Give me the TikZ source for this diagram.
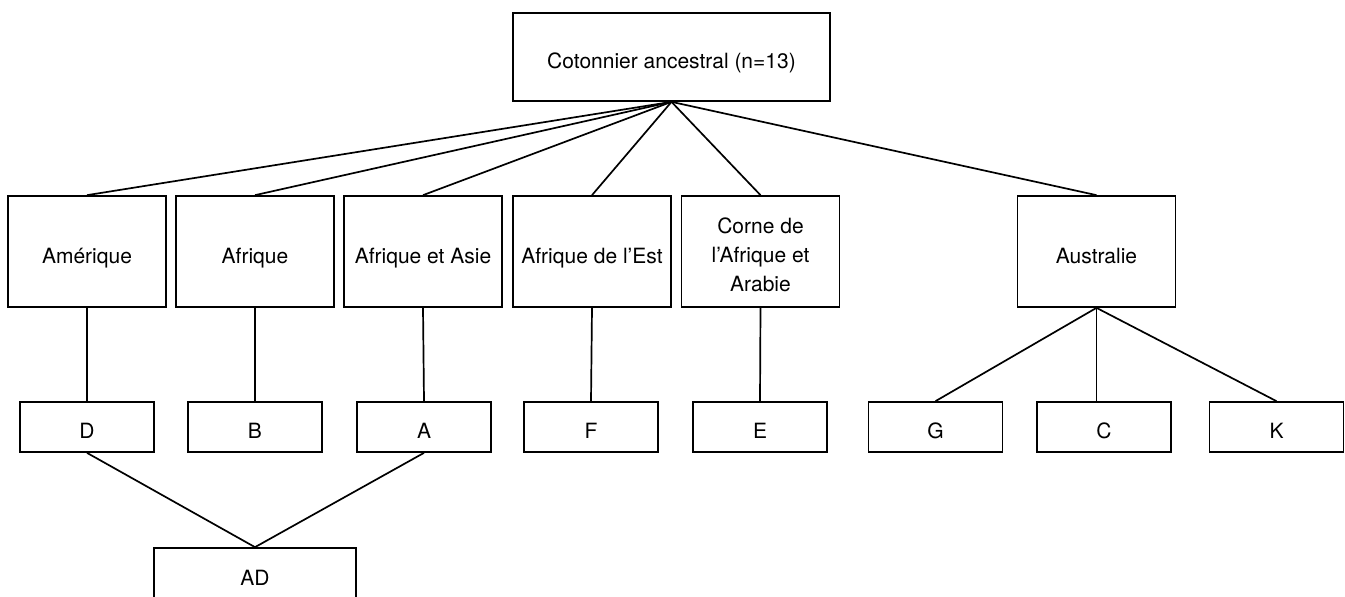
\documentclass[tikz,border=0pt]{standalone}
\usepackage{fontspec}
\setmainfont{TeX Gyre Heros}

\tikzset{
	box/.style={draw, line width=0.85pt, inner sep=0pt, align=center, font=\fontsize{10.5}{14.5}\selectfont},
	oneline/.style={text height=11.5pt, text depth=0pt},
	ancestor/.style={box, oneline, minimum width=158.5pt, minimum height=44pt},
	region/.style={box, oneline, minimum width=79pt, minimum height=55.5pt},
	regionlong/.style={box, minimum width=79pt, minimum height=55.5pt},
	genome/.style={box, oneline, minimum width=67pt, minimum height=25pt},
	hybrid/.style={box, oneline, minimum width=101pt, minimum height=26pt},
	link/.style={line width=0.85pt}
}

\begin{document}
\begin{tikzpicture}[x=0.5pt, y=-0.5pt]
	\useasboundingbox (0,0) rectangle (1345,596);
	%Ancestor
		\node[ancestor] (anc) at (671.5,57) {Cotonnier ancestral (n=13)};
	%Regions
		\node[region] (am)    at (87,251.5)     {Amérique};
		\node[region] (af)    at (255,251.5)    {Afrique};
		\node[region] (afas)  at (423,251.5)    {Afrique et Asie};
		\node[region] (afe)   at (592,251.5)    {Afrique de l’Est};
		\node[regionlong] (corne) at (760.5,251.5) {\rule{0pt}{11.6pt}Corne de\\l’Afrique et\\Arabie};
		\node[region] (aus)   at (1096.5,251.5) {Australie};
	%Genomes
		\node[genome] (D) at (87,427)     {D};
		\node[genome] (B) at (255,427)    {B};
		\node[genome] (A) at (424,427)    {A};
		\node[genome] (F) at (591,427)    {F};
		\node[genome] (E) at (760,427)    {E};
		\node[genome] (G) at (935.5,427)  {G};
		\node[genome] (C) at (1104,427)   {C};
		\node[genome] (K) at (1276.5,427) {K};
	%AD
		\node[hybrid] (AD) at (255,574) {AD};
	%Ancestor->Regions
		\foreach \r in {am,af,afas,afe,corne,aus}
			\draw[link] (anc.south) -- (\r.north);
	%Regions->Genomes
		\draw[link] (am.south) -- (D.north);
		\draw[link] (af.south) -- (B.north);
		\draw[link] (afas.south) -- (A.north);
		\draw[link] (afe.south) -- (F.north);
		\draw[link] (corne.south) -- (E.north);
		\draw[link] (aus.south) -- (G.north);
		\draw[link] (aus.south) -- (aus.south |- C.north);
		\draw[link] (aus.south) -- (K.north);
	%D + A -> AD
		\draw[link] (D.south) -- (AD.north);
		\draw[link] (A.south) -- (AD.north);
\end{tikzpicture}
\end{document}
